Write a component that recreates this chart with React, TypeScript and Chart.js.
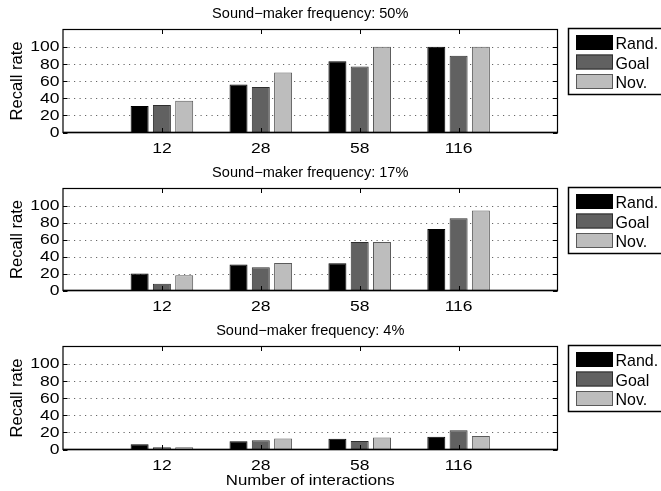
import React, { useEffect, useRef } from 'react';
import { Chart, registerables } from 'chart.js';

Chart.register(...registerables);

// ---- data ----
const categories = ['12', '28', '58', '116'];
const seriesLabels = ['Rand.', 'Goal', 'Nov.'];
const panelTitles = [
  'Sound\u2212maker frequency: 50%',
  'Sound\u2212maker frequency: 17%',
  'Sound\u2212maker frequency: 4%',
];
const rand50 = [31, 56, 83, 100];
const goal50 = [32, 53, 77, 89.5];
const nov50 = [37, 70, 100, 100];
const rand17 = [20, 30.5, 32, 72.5];
const goal17 = [8, 27.5, 57, 85];
const nov17 = [18, 32.5, 57, 94];
const rand4 = [6, 9.7, 12.4, 15];
const goal4 = [2.6, 10.8, 10, 22.4];
const nov4 = [2.6, 12.8, 14, 15.8];
const yTickValues = [0, 20, 40, 60, 80, 100];
const yGridValues = [20, 40, 60, 80, 100];
const yMax = 120;
const yLabel = 'Recall rate';
const xLabel = 'Number of interactions';

const panelSeries = [
  [rand50, goal50, nov50],
  [rand17, goal17, nov17],
  [rand4, goal4, nov4],
];

// ---- style / layout ----
const W = 661;
const H = 491;
const PLOT_LEFT = 63;
const PLOT_RIGHT = 557.5;
const PANEL_TOPS = [29.5, 188.5, 346.5];
const PANEL_BOTTOMS = [132.5, 290.5, 449.5];
const FILLS = ['#000000', '#616161', '#bdbdbd'];
const EDGES = ['#000000', '#2e2e2e', '#5a5a5a'];
const FONT = '"Liberation Sans", Arial, Helvetica, sans-serif';

function drawText(
  ctx: CanvasRenderingContext2D,
  text: string,
  x: number,
  y: number,
  size: number,
  sx: number,
  align: CanvasTextAlign,
  baseline: CanvasTextBaseline = 'alphabetic',
  rotate = 0
) {
  ctx.save();
  ctx.translate(x, y);
  if (rotate) ctx.rotate(rotate);
  ctx.scale(sx, 1);
  ctx.font = `${size}px ${FONT}`;
  ctx.textAlign = align;
  ctx.textBaseline = baseline;
  ctx.fillStyle = '#000';
  ctx.fillText(text, 0, 0);
  ctx.restore();
}

function makePanelPlugin(panel: number, isLast: boolean) {
  return {
    id: 'panelDecor' + panel,
    beforeDatasetsDraw(chart: any) {
      const ctx: CanvasRenderingContext2D = chart.ctx;
      const area = chart.chartArea;
      const y = chart.scales.y;
      ctx.save();
      ctx.strokeStyle = '#666';
      ctx.lineWidth = 1;
      ctx.setLineDash([1.2, 4.3]);
      yGridValues.forEach((v) => {
        const py = Math.round(y.getPixelForValue(v)) + 0.5;
        ctx.beginPath();
        ctx.moveTo(area.left, py);
        ctx.lineTo(area.right, py);
        ctx.stroke();
      });
      ctx.restore();
    },
    afterDatasetsDraw(chart: any) {
      const ctx: CanvasRenderingContext2D = chart.ctx;
      const area = chart.chartArea;
      const x = chart.scales.x;
      const y = chart.scales.y;
      ctx.save();
      // axes box
      ctx.strokeStyle = '#000';
      ctx.lineWidth = 1.2;
      ctx.strokeRect(area.left, area.top, area.right - area.left, area.bottom - area.top);
      ctx.lineWidth = 1.6;
      ctx.beginPath();
      ctx.moveTo(area.left, area.bottom);
      ctx.lineTo(area.right, area.bottom);
      ctx.stroke();
      // inward ticks
      ctx.lineWidth = 1;
      const tl = 4.5;
      categories.forEach((_, i) => {
        const px = Math.round(x.getPixelForValue(i + 1)) + 0.5;
        ctx.beginPath();
        ctx.moveTo(px, area.top);
        ctx.lineTo(px, area.top + tl);
        ctx.moveTo(px, area.bottom);
        ctx.lineTo(px, area.bottom - tl);
        ctx.stroke();
      });
      yTickValues.forEach((v) => {
        const py = Math.round(y.getPixelForValue(v)) + 0.5;
        ctx.beginPath();
        ctx.moveTo(area.left, py);
        ctx.lineTo(area.left + tl, py);
        ctx.moveTo(area.right, py);
        ctx.lineTo(area.right - tl, py);
        ctx.stroke();
      });
      ctx.restore();

      // y tick labels
      yTickValues.forEach((v) => {
        drawText(ctx, String(v), area.left - 3.5, y.getPixelForValue(v) + 0.5, 15.5, 1.13, 'right', 'middle');
      });
      // x tick labels
      categories.forEach((c, i) => {
        drawText(ctx, c, x.getPixelForValue(i + 1), area.bottom + 20, 15.5, 1.13, 'center');
      });
      // title
      const cx = (area.left + area.right) / 2;
      drawText(ctx, panelTitles[panel], cx, area.top - 11.5, 14, 1.04, 'center');
      // y label
      drawText(ctx, yLabel, 21.5, (area.top + area.bottom) / 2, 16.5, 1, 'center', 'alphabetic', -Math.PI / 2);
      // x label
      if (isLast) {
        drawText(ctx, xLabel, cx, area.bottom + 35.5, 15, 1.12, 'center');
      }

      // legend
      const lt = area.top - 1;
      ctx.save();
      ctx.fillStyle = '#fff';
      ctx.fillRect(568.5, lt, 130, 66);
      ctx.strokeStyle = '#000';
      ctx.lineWidth = 1.5;
      ctx.strokeRect(568.5, lt, 130, 66);
      chart.data.datasets.forEach((ds: any, i: number) => {
        const sy = lt + 6.5 + i * 19.5;
        ctx.fillStyle = ds.backgroundColor;
        ctx.fillRect(576, sy, 37, 15);
        ctx.strokeStyle = ds.borderColor;
        ctx.lineWidth = 1;
        ctx.strokeRect(576.5, sy + 0.5, 36, 14);
        drawText(ctx, ds.label, 615.5, sy + 14, 17, 0.94, 'left');
      });
      ctx.restore();
    },
  };
}

function Panel({ index }: { index: number }) {
  const ref = useRef<HTMLCanvasElement | null>(null);
  useEffect(() => {
    if (!ref.current) return;
    const labels = ['', ...categories, ''];
    const datasets = panelSeries[index].map((vals, i) => ({
      label: seriesLabels[i],
      data: [null, ...vals, null],
      backgroundColor: FILLS[i],
      borderColor: EDGES[i],
      borderWidth: 1,
      borderSkipped: 'start' as const,
      categoryPercentage: 0.676,
      barPercentage: 0.807,
    }));
    const chart = new Chart(ref.current, {
      type: 'bar',
      data: { labels, datasets },
      options: {
        animation: false,
        responsive: false,
        devicePixelRatio: 1,
        layout: {
          padding: {
            left: PLOT_LEFT,
            right: W - PLOT_RIGHT,
            top: PANEL_TOPS[index],
            bottom: H - PANEL_BOTTOMS[index],
          },
        },
        plugins: {
          legend: { display: false },
          title: { display: false },
          tooltip: { enabled: false },
        },
        scales: {
          x: { display: false, offset: false, grid: { offset: false } },
          y: { display: false, min: 0, max: yMax },
        },
      },
      plugins: [makePanelPlugin(index, index === panelSeries.length - 1)],
    });
    return () => chart.destroy();
  }, [index]);
  return (
    <canvas
      ref={ref}
      width={W}
      height={H}
      style={{ position: 'absolute', left: 0, top: 0, width: W, height: H }}
    />
  );
}

export default function App() {
  return (
    <div style={{ position: 'absolute', left: 0, top: 0, width: W, height: H, background: '#fff', overflow: 'hidden' }}>
      {panelSeries.map((_, i) => (
        <Panel key={i} index={i} />
      ))}
    </div>
  );
}
